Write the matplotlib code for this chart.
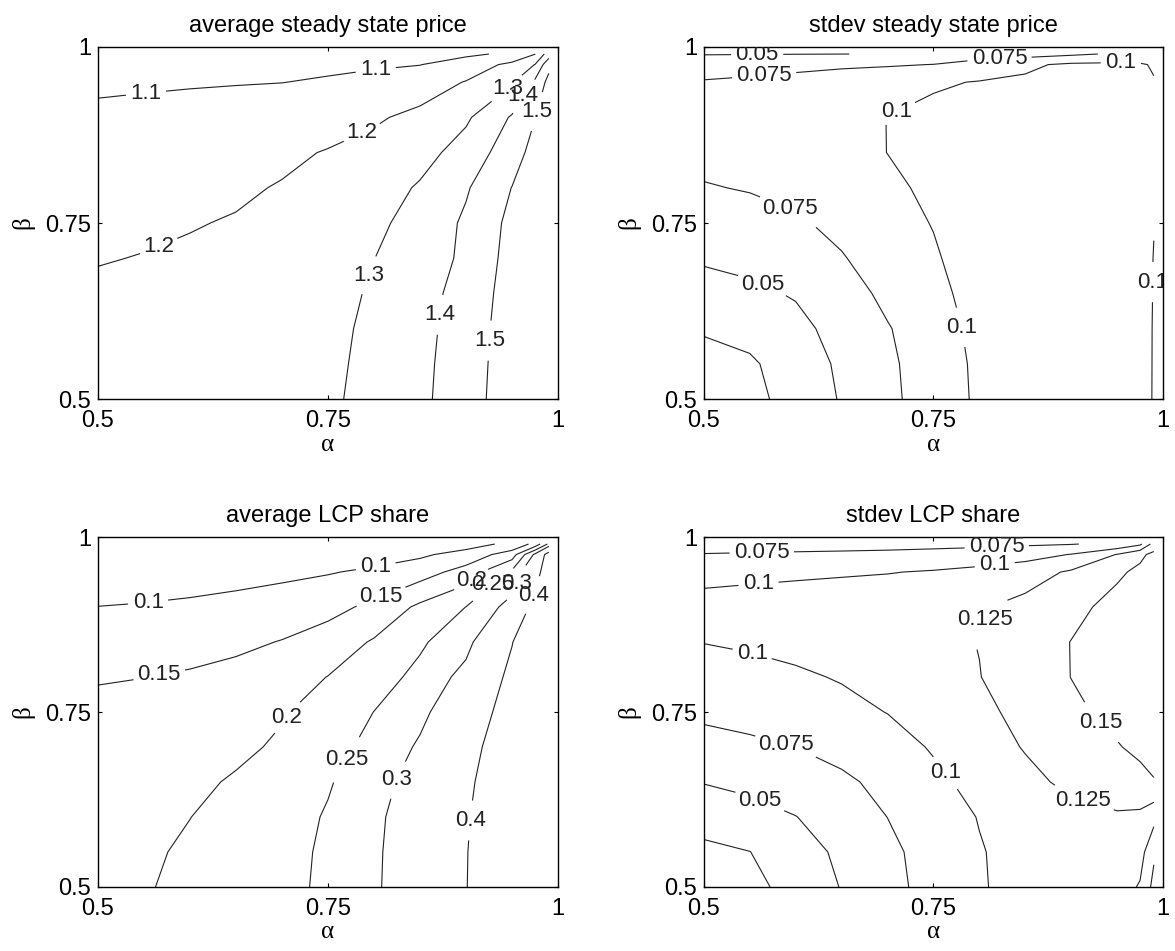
import numpy as np
import matplotlib
matplotlib.use("Agg")
import matplotlib.pyplot as plt

# grid of (alpha, beta) values the model was solved on
ALPHA = [0.5, 0.55, 0.6, 0.65, 0.7, 0.75, 0.8, 0.85, 0.9, 0.95, 0.975, 0.99]
BETA = [0.5, 0.55, 0.6, 0.65, 0.7, 0.75, 0.8, 0.85, 0.9, 0.95, 0.975, 0.99]

# one row per beta, one column per alpha
PRICE_MEAN = [
    [1.235, 1.240, 1.247, 1.256, 1.268, 1.285, 1.329, 1.378, 1.460, 1.551, 1.575, 1.590],
    [1.228, 1.233, 1.240, 1.250, 1.262, 1.280, 1.325, 1.374, 1.456, 1.548, 1.575, 1.590],
    [1.219, 1.224, 1.232, 1.242, 1.255, 1.275, 1.320, 1.368, 1.450, 1.545, 1.573, 1.590],
    [1.210, 1.215, 1.222, 1.232, 1.245, 1.265, 1.312, 1.360, 1.440, 1.540, 1.570, 1.590],
    [1.197, 1.202, 1.210, 1.220, 1.233, 1.252, 1.299, 1.345, 1.420, 1.535, 1.568, 1.590],
    [1.185, 1.190, 1.196, 1.205, 1.217, 1.235, 1.280, 1.335, 1.415, 1.525, 1.565, 1.590],
    [1.172, 1.176, 1.181, 1.189, 1.205, 1.222, 1.255, 1.310, 1.390, 1.502, 1.560, 1.590],
    [1.155, 1.160, 1.165, 1.172, 1.184, 1.205, 1.230, 1.265, 1.340, 1.455, 1.535, 1.580],
    [1.118, 1.124, 1.130, 1.138, 1.148, 1.162, 1.188, 1.224, 1.285, 1.410, 1.498, 1.560],
    [1.085, 1.089, 1.093, 1.096, 1.099, 1.108, 1.125, 1.150, 1.205, 1.290, 1.420, 1.530],
    [1.070, 1.073, 1.076, 1.079, 1.082, 1.085, 1.090, 1.098, 1.140, 1.225, 1.302, 1.470],
    [1.060, 1.062, 1.064, 1.066, 1.068, 1.070, 1.074, 1.078, 1.085, 1.115, 1.198, 1.350],
]

PRICE_STD = [
    [0.012, 0.019, 0.033, 0.052, 0.0695, 0.0867, 0.1038, 0.112, 0.117, 0.118, 0.112, 0.098],
    [0.018, 0.0225, 0.0339, 0.055, 0.0715, 0.085, 0.1053, 0.113, 0.118, 0.119, 0.113, 0.098],
    [0.027, 0.031, 0.043, 0.059, 0.0735, 0.089, 0.1067, 0.114, 0.119, 0.120, 0.114, 0.098],
    [0.040, 0.045, 0.0521, 0.064, 0.0807, 0.093, 0.1097, 0.116, 0.120, 0.121, 0.115, 0.0985],
    [0.053, 0.057, 0.064, 0.0735, 0.086, 0.097, 0.1137, 0.119, 0.122, 0.122, 0.116, 0.099],
    [0.063, 0.066, 0.072, 0.0808, 0.090, 0.1011, 0.112, 0.119, 0.122, 0.122, 0.116, 0.101],
    [0.0735, 0.0765, 0.081, 0.087, 0.0955, 0.1045, 0.112, 0.117, 0.120, 0.120, 0.115, 0.104],
    [0.082, 0.084, 0.087, 0.092, 0.1002, 0.106, 0.111, 0.114, 0.116, 0.116, 0.112, 0.106],
    [0.088, 0.089, 0.091, 0.0945, 0.1002, 0.1045, 0.108, 0.110, 0.112, 0.113, 0.111, 0.107],
    [0.077, 0.080, 0.084, 0.089, 0.094, 0.0979, 0.1009, 0.1035, 0.1055, 0.1065, 0.105, 0.1015],
    [0.062, 0.0645, 0.0675, 0.0705, 0.0725, 0.0755, 0.088, 0.096, 0.104, 0.105, 0.103, 0.0974],
    [0.049, 0.0493, 0.0496, 0.0499, 0.0505, 0.055, 0.060, 0.065, 0.071, 0.0779, 0.080, 0.078],
]

LCP_MEAN = [
    [0.192, 0.197, 0.209, 0.223, 0.238, 0.258, 0.292, 0.340, 0.398, 0.470, 0.520, 0.560],
    [0.188, 0.193, 0.2065, 0.221, 0.236, 0.257, 0.291, 0.338, 0.397, 0.470, 0.520, 0.560],
    [0.183, 0.190, 0.1995, 0.215, 0.231, 0.254, 0.288, 0.335, 0.393, 0.468, 0.520, 0.560],
    [0.176, 0.182, 0.190, 0.205, 0.225, 0.246, 0.278, 0.325, 0.385, 0.462, 0.515, 0.555],
    [0.168, 0.174, 0.181, 0.190, 0.207, 0.232, 0.264, 0.307, 0.370, 0.455, 0.510, 0.550],
    [0.160, 0.165, 0.172, 0.181, 0.196, 0.219, 0.2505, 0.287, 0.345, 0.440, 0.500, 0.545],
    [0.147, 0.1495, 0.155, 0.164, 0.178, 0.201, 0.230, 0.262, 0.318, 0.420, 0.490, 0.540],
    [0.125, 0.128, 0.133, 0.140, 0.152, 0.172, 0.205, 0.243, 0.282, 0.397, 0.470, 0.520],
    [0.1005, 0.103, 0.107, 0.113, 0.122, 0.135, 0.161, 0.210, 0.2505, 0.320, 0.430, 0.500],
    [0.076, 0.078, 0.081, 0.085, 0.090, 0.097, 0.108, 0.128, 0.170, 0.260, 0.360, 0.460],
    [0.063, 0.064, 0.066, 0.068, 0.071, 0.075, 0.081, 0.092, 0.118, 0.175, 0.310, 0.440],
    [0.055, 0.056, 0.057, 0.058, 0.060, 0.062, 0.065, 0.070, 0.080, 0.112, 0.165, 0.260],
]

LCP_STD = [
    [0.010, 0.0175, 0.0345, 0.051, 0.0675, 0.0838, 0.098, 0.108, 0.114, 0.112, 0.0977, 0.068],
    [0.020, 0.0247, 0.0396, 0.0545, 0.0695, 0.0848, 0.0985, 0.1085, 0.116, 0.118, 0.110, 0.079],
    [0.034, 0.041, 0.0495, 0.062, 0.0752, 0.088, 0.101, 0.111, 0.118, 0.122, 0.120, 0.108],
    [0.051, 0.056, 0.063, 0.071, 0.081, 0.095, 0.107, 0.119, 0.130, 0.139, 0.143, 0.1485],
    [0.066, 0.070, 0.0752, 0.082, 0.091, 0.102, 0.114, 0.1265, 0.138, 0.1485, 0.155, 0.160],
    [0.080, 0.084, 0.088, 0.094, 0.1005, 0.109, 0.120, 0.131, 0.145, 0.157, 0.162, 0.165],
    [0.090, 0.093, 0.097, 0.1015, 0.107, 0.114, 0.1245, 0.136, 0.1503, 0.161, 0.165, 0.168],
    [0.1005, 0.103, 0.106, 0.110, 0.1145, 0.120, 0.1255, 0.136, 0.1505, 0.163, 0.168, 0.170],
    [0.108, 0.110, 0.112, 0.114, 0.117, 0.120, 0.123, 0.1315, 0.143, 0.158, 0.165, 0.170],
    [0.093, 0.0945, 0.096, 0.0975, 0.099, 0.102, 0.107, 0.115, 0.128, 0.146, 0.155, 0.165],
    [0.076, 0.077, 0.078, 0.079, 0.080, 0.082, 0.085, 0.090, 0.101, 0.126, 0.145, 0.156],
    [0.065, 0.066, 0.0665, 0.067, 0.068, 0.069, 0.070, 0.072, 0.074, 0.080, 0.095, 0.135],
]

PRICE_MEAN_LEVELS = [1.1, 1.2, 1.3, 1.4, 1.5]
PRICE_STD_LEVELS = [0.025, 0.05, 0.075, 0.1]
LCP_MEAN_LEVELS = [0.1, 0.15, 0.2, 0.25, 0.3, 0.4]
LCP_STD_LEVELS = [0.025, 0.05, 0.075, 0.1, 0.125, 0.15]

TITLES = ["average steady state price", "stdev steady state price",
          "average LCP share", "stdev LCP share"]
TICKS = [0.5, 0.75, 1.0]
TICK_LABELS = ["0.5", "0.75", "1"]

plt.rcParams["font.family"] = ["Liberation Sans", "DejaVu Sans"]

fig = plt.figure(figsize=(11.75, 9.51), dpi=100)

# axes boxes in figure fractions
boxes = [
    [0.0834, 0.5804, 0.3915, 0.3702],
    [0.5991, 0.5804, 0.3907, 0.3702],
    [0.0834, 0.0673, 0.3915, 0.3680],
    [0.5991, 0.0673, 0.3907, 0.3680],
]

# where the inline labels sit (alpha, beta); the innermost 0.025 rings get none
label_spots = [
    [(0.553, 0.923), (0.802, 0.966), (0.569, 0.708), (0.788, 0.875),
     (0.794, 0.676), (0.944, 0.942), (0.875, 0.619), (0.963, 0.93),
     (0.925, 0.583), (0.975, 0.909)],
    [(0.558, 0.985), (0.566, 0.955), (0.822, 0.98), (0.954, 0.975),
     (0.712, 0.904), (0.593, 0.768), (0.564, 0.664), (0.78, 0.602),
     (0.988, 0.666)],
    [(0.555, 0.901), (0.802, 0.957), (0.567, 0.80), (0.807, 0.917),
     (0.705, 0.743), (0.905, 0.94), (0.771, 0.681), (0.929, 0.933),
     (0.83, 0.65), (0.948, 0.938), (0.906, 0.595), (0.973, 0.917)],
    [(0.563, 0.976), (0.819, 0.983), (0.56, 0.924), (0.817, 0.957),
     (0.554, 0.84), (0.762, 0.662), (0.808, 0.881), (0.91, 0.612),
     (0.929, 0.731), (0.59, 0.705), (0.563, 0.629)],
]

fields = [PRICE_MEAN, PRICE_STD, LCP_MEAN, LCP_STD]
levels = [PRICE_MEAN_LEVELS, PRICE_STD_LEVELS, LCP_MEAN_LEVELS, LCP_STD_LEVELS]

for i in range(4):
    ax = fig.add_axes(boxes[i])
    cs = ax.contour(ALPHA, BETA, np.array(fields[i]), levels=levels[i],
                    colors="#222222", linewidths=0.8)
    texts = ax.clabel(cs, inline=True, fmt="%g", fontsize=16,
                      manual=label_spots[i], inline_spacing=5)
    for t in texts:
        t.set_rotation(0)

    ax.set_xlim(0.5, 1)
    ax.set_ylim(0.5, 1)
    ax.set_xticks(TICKS)
    ax.set_xticklabels(TICK_LABELS)
    ax.set_yticks(TICKS)
    ax.set_yticklabels(TICK_LABELS)
    ax.tick_params(direction="in", top=True, right=True, length=3, width=0.8,
                   labelsize=17)
    ax.tick_params(axis="x", pad=8)
    ax.tick_params(axis="y", pad=5)
    for s in ax.spines.values():
        s.set_linewidth(1.0)
    ax.set_xlabel("α", family="Liberation Serif", fontsize=18, labelpad=1)
    ax.set_ylabel("β", family="Liberation Serif", fontsize=18, labelpad=8)
    ax.set_title(TITLES[i], fontsize=17, pad=11)

fig.savefig("out.png", dpi=100)
